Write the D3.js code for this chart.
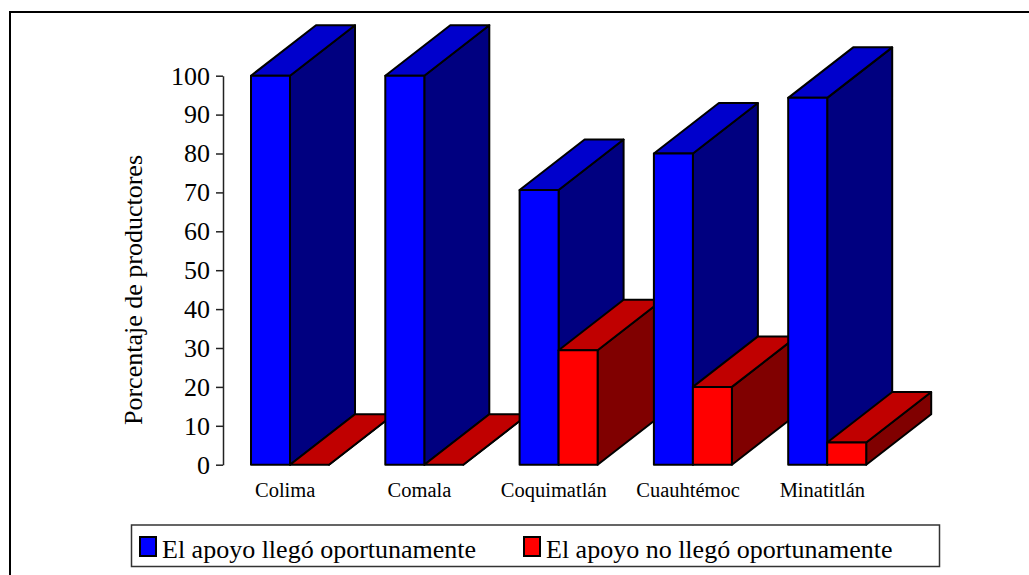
<!DOCTYPE html>
<html>
<head>
<meta charset="utf-8">
<script src="https://cdn.jsdelivr.net/npm/d3@7"></script>
<style>
  body { margin: 0; background: #fff; }
  svg text { font-family: "Liberation Serif", "Times New Roman", serif !important; fill: #000; }
</style>
</head>
<body>
<div id="chart"></div>
<script>
//data
const categories = ["Colima", "Comala", "Coquimatlán", "Cuauhtémoc", "Minatitlán"];
const series = ["El apoyo llegó oportunamente", "El apoyo no llegó oportunamente"];
const llego = [100, 100, 70.6, 80, 94.3];
const noLlego = [0, 0, 29.4, 20, 5.7];
const yTicks = [0, 10, 20, 30, 40, 50, 60, 70, 80, 90, 100];
const yTitle = "Porcentaje de productores";

//colours per series: front, top, side
const colors = [
  { front: "#0000FF", top: "#0000CC", side: "#000080" },
  { front: "#FF0000", top: "#C00000", side: "#800000" },
];

const serif = "Liberation Serif";
const width = 1029, height = 575;
const depthX = 65, depthY = -50.5;

const svg = d3.select("#chart").append("svg")
  .attr("width", width)
  .attr("height", height);

//outer frame (cut by the window on the right and bottom)
svg.append("rect")
  .attr("x", 10).attr("y", 12)
  .attr("width", 1040).attr("height", 600)
  .attr("fill", "none").attr("stroke", "#000").attr("stroke-width", 2);

const y = d3.scaleLinear().domain([0, 100]).range([464.7, 75.7]);
const x = d3.scaleBand().domain(categories).range([223, 894.5]);
const xSub = d3.scaleBand().domain(series).range([28, 106]);

//bars, drawn left to right so nearer faces cover the ones behind
const values = [llego, noLlego];
const bars = svg.append("g");
categories.forEach((cat, i) => {
  series.forEach((s, j) => {
    const x0 = x(cat) + xSub(s);
    const w = xSub.bandwidth();
    const yT = y(values[j][i]);
    const yB = y(0);
    const c = colors[j];
    const g = bars.append("g")
      .attr("stroke", "#000").attr("stroke-width", 2).attr("stroke-linejoin", "round");
    //side
    g.append("polygon")
      .attr("points", [[x0 + w, yT], [x0 + w + depthX, yT + depthY], [x0 + w + depthX, yB + depthY], [x0 + w, yB]].join(" "))
      .attr("fill", c.side);
    //top
    g.append("polygon")
      .attr("points", [[x0, yT], [x0 + w, yT], [x0 + w + depthX, yT + depthY], [x0 + depthX, yT + depthY]].join(" "))
      .attr("fill", c.top);
    //front
    if (yB - yT > 0.5) {
      g.append("rect")
        .attr("x", x0).attr("y", yT)
        .attr("width", w).attr("height", yB - yT)
        .attr("fill", c.front);
    }
  });
});

//y axis
const yAxis = d3.axisLeft(y).tickValues(yTicks).tickSize(7).tickPadding(6).tickSizeOuter(0);
const ga = svg.append("g").attr("transform", "translate(223,0)").call(yAxis)
  .attr("font-family", serif).attr("font-size", 26);
ga.select(".domain").attr("stroke", "#222").attr("stroke-width", 1.5);
ga.selectAll(".tick line").attr("stroke", "#222").attr("stroke-width", 1.5);
ga.selectAll(".tick text")
  .attr("font-family", serif)
  .attr("font-size", 26)
  .attr("fill", "#000");

//y title
svg.append("text")
  .attr("transform", "translate(142,290) rotate(-90)")
  .attr("text-anchor", "middle")
  .attr("font-family", serif)
  .attr("font-size", 26)
  .text(yTitle);

//category labels
svg.append("g").selectAll("text")
  .data(categories)
  .join("text")
  .attr("x", d => x(d) + x.bandwidth() / 2 - 5)
  .attr("y", 497)
  .attr("text-anchor", "middle")
  .attr("font-family", serif)
  .attr("font-size", 20.5)
  .text(d => d);

//legend
const legend = svg.append("g");
legend.append("rect")
  .attr("x", 131.5).attr("y", 525)
  .attr("width", 808).attr("height", 41.5)
  .attr("fill", "#fff").attr("stroke", "#333").attr("stroke-width", 1.5);
const legendX = [140, 524];
series.forEach((s, j) => {
  legend.append("rect")
    .attr("x", legendX[j]).attr("y", 537)
    .attr("width", 16).attr("height", 19)
    .attr("fill", colors[j].front)
    .attr("stroke", "#000").attr("stroke-width", 2);
  legend.append("text")
    .attr("x", legendX[j] + 22).attr("y", 558)
    .attr("font-family", serif)
    .attr("font-size", 26)
    .text(s);
});
</script>
</body>
</html>
